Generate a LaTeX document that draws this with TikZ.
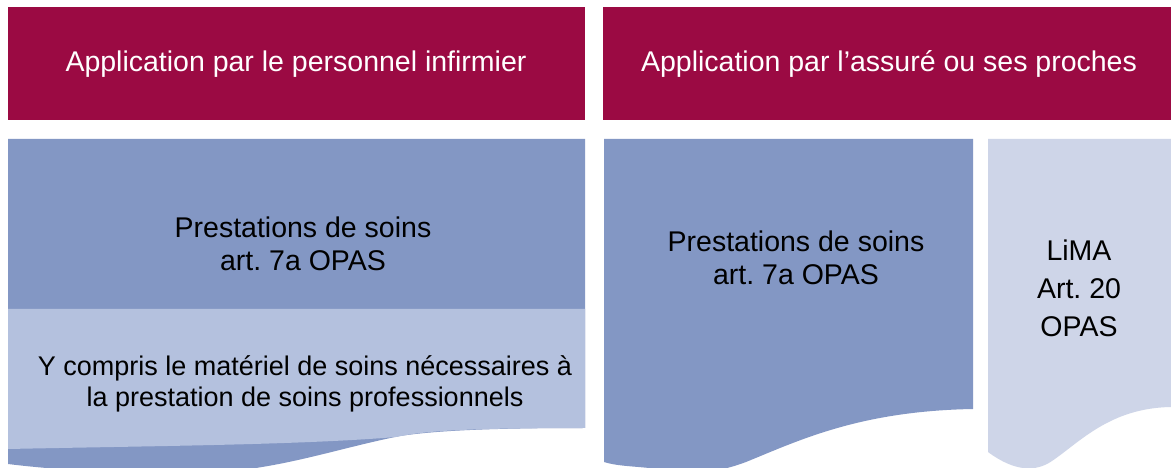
\documentclass[tikz,border=0pt]{standalone}
\usepackage{fontspec}
\setmainfont{Liberation Sans}
\frenchspacing
\definecolor{hdr}{HTML}{9B0A43}
\definecolor{bluedark}{HTML}{8397C4}
\definecolor{bluemid}{HTML}{B4C1DE}
\definecolor{bluelight}{HTML}{CED5E8}
\tikzset{
  hdrtext/.style={text=white, font=\fontsize{28.5bp}{33bp}\selectfont, align=center, inner sep=0pt},
  bodytext/.style={text=black, font=\fontsize{28.5bp}{33bp}\selectfont, align=center, inner sep=0pt},
  smalltext/.style={text=black, font=\fontsize{27bp}{31bp}\selectfont, align=center, inner sep=0pt},
  limatext/.style={text=black, font=\fontsize{28.5bp}{38bp}\selectfont, align=center, inner sep=0pt},
}
\begin{document}
\begin{tikzpicture}[x=1bp,y=-1bp]
\path[use as bounding box, fill=white] (0,0) rectangle (1171,468);
\clip (0,0) rectangle (1171,468);
% headers
\fill[hdr] (8,7) rectangle (585,120);
\fill[hdr] (603,7) rectangle (1171,120);
\node[hdrtext] (h1) at (296,64) {Application par le personnel infirmier};
\node[hdrtext] (h2) at (889,64) {Application par l’assuré ou ses proches};
% left column: dark shape with wave
\fill[bluedark] (8,139) -- (585,139) -- (585,428)
  .. controls (500,428) and (440,430) .. (400,436)
  .. controls (320,452) and (260,478) .. (150,474)
  .. controls (90,472) and (40,468) .. (8,464) -- cycle;
% left column: mid shape with wave
\fill[bluemid] (8,309) -- (585,309) -- (585,428)
  .. controls (450,428) and (420,432) .. (396,437)
  .. controls (300,445) and (150,446) .. (8,449) -- cycle;
\node[bodytext] (p1) at (303,244) {Prestations de soins\\art. 7a OPAS};
\node[smalltext] (p2) at (305,384) {Y compris le matériel de soins nécessaires à\\la prestation de soins professionnels};
% right column dark
\fill[bluedark] (604,139) -- (973,139) -- (973,409)
  .. controls (860,411) and (800,440) .. (746,462)
  .. controls (720,472) and (690,476) .. (664,470)
  .. controls (640,466) and (620,467) .. (604,462) -- cycle;
\node[bodytext] (p3) at (796,258) {Prestations de soins\\art. 7a OPAS};
% right column light
\fill[bluelight] (988,139) -- (1171,139) -- (1171,407)
  .. controls (1110,408) and (1080,442) .. (1052,461)
  .. controls (1036,472) and (1015,472) .. (988,452) -- cycle;
\node[limatext] (p4) at (1079,288) {LiMA\\Art. 20\\OPAS};
\end{tikzpicture}
\end{document}
